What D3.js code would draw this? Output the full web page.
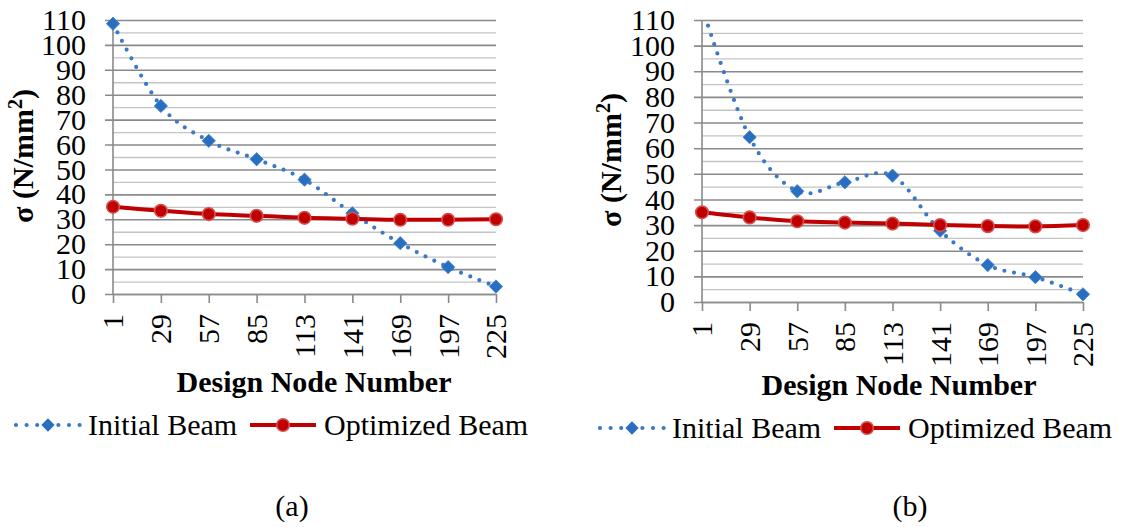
<!DOCTYPE html>
<html>
<head>
<meta charset="utf-8">
<script src="https://cdn.jsdelivr.net/npm/d3@7"></script>
<style>
  html, body { margin: 0; padding: 0; background: #ffffff; }
  svg { display: block; }
</style>
</head>
<body>
<svg id="chart" width="1125" height="527"></svg>
<script>
// Design node numbers along the beam (category axis)
const nodes = ["1", "29", "57", "85", "113", "141", "169", "197", "225"];

// Stress σ (N/mm²) at each design node — panel (a)
const initialA   = [108.5, 75.5, 61.5, 54.1, 45.9, 32.4, 20.4, 10.8, 3.0];
const optimizedA = [35.0, 33.4, 32.1, 31.4, 30.6, 30.2, 29.8, 29.8, 30.0];

// Stress σ (N/mm²) at each design node — panel (b)
const initialB   = [115.0, 64.3, 43.2, 46.7, 49.3, 27.8, 14.4, 9.7, 3.0];
const optimizedB = [35.0, 33.0, 31.5, 31.0, 30.6, 30.0, 29.6, 29.5, 30.0];

// Value-axis ticks: labelled majors and unlabelled minors
const yMajor = [0, 10, 20, 30, 40, 50, 60, 70, 80, 90, 100, 110];
const yMinor = [5, 15, 25, 35, 45, 55, 65, 75, 85, 95, 105];

const seriesNames = ["Initial Beam", "Optimized Beam"];
const panelLabels = ["(a)", "(b)"];

const BLUE_LINE = "#3a79c5";
const BLUE_MARK = "#2a6ec0";
const RED = "#c00000";
const RED_RING = "#d4504f";
const FONT = 30;
const SERIF = "Liberation Serif";

const svg = d3.select("#chart");

const panels = [
  { id: "a", initial: initialA, optimized: optimizedA, label: panelLabels[0],
    left: 113, right: 496, top: 20, bottom: 294,
    yTitleX: 33, yTitleY: 156, xTitleX: 314, xTitleY: 392,
    legendX: 16, legendY: 425, capX: 292, capY: 516 },
  { id: "b", initial: initialB, optimized: optimizedB, label: panelLabels[1],
    left: 702, right: 1083, top: 20, bottom: 302,
    yTitleX: 621, yTitleY: 160, xTitleX: 899, xTitleY: 395,
    legendX: 600, legendY: 428, capX: 910, capY: 516 }
];

const diamond = d3.symbol().type(d3.symbolSquare).size(88);
const MARK_R = 6.3;

panels.forEach(p => {
  const g = svg.append("g");
  const w = p.right - p.left;

  const x = d3.scalePoint().domain(nodes).range([p.left, p.right]);
  const y = d3.scaleLinear().domain([0, 110]).range([p.bottom, p.top]);

  // minor gridlines
  g.append("g")
    .attr("transform", `translate(${p.left},0)`)
    .call(d3.axisLeft(y).tickValues(yMinor).tickSize(-w).tickFormat(""))
    .call(s => s.select(".domain").remove())
    .call(s => s.selectAll("line").attr("stroke", "#c3c3c3").attr("stroke-width", 1.3));

  // major gridlines, extending left of the axis as tick marks
  g.append("g")
    .attr("transform", `translate(${p.left - 8},0)`)
    .call(d3.axisLeft(y).tickValues(yMajor).tickSize(-(w + 8)).tickFormat(""))
    .call(s => s.select(".domain").remove())
    .call(s => s.selectAll("line").attr("stroke", "#8a8a8a").attr("stroke-width", 1.6));

  // value-axis labels
  g.append("g")
    .attr("transform", `translate(${p.left},0)`)
    .call(d3.axisLeft(y).tickValues(yMajor).tickSize(0).tickPadding(27))
    .call(s => s.select(".domain").remove())
    .call(s => s.selectAll("text").style("font-size", FONT + "px"));

  // vertical axis line
  g.append("line")
    .attr("x1", p.left).attr("x2", p.left)
    .attr("y1", y(110)).attr("y2", y(0))
    .attr("stroke", "#8a8a8a").attr("stroke-width", 1.6);

  // category axis with rotated labels
  g.append("g")
    .attr("transform", `translate(0,${p.bottom})`)
    .call(d3.axisBottom(x).tickSize(9).tickSizeOuter(0))
    .call(s => s.select(".domain").attr("stroke", "#8a8a8a").attr("stroke-width", 1.6))
    .call(s => s.selectAll("line").attr("stroke", "#8a8a8a").attr("stroke-width", 1.6))
    .call(s => s.selectAll("text")
      .attr("transform", "rotate(-90)")
      .attr("x", -20).attr("y", 0).attr("dy", "0.33em")
      .attr("text-anchor", "end")
      .style("font-size", FONT + "px"));

  // axis titles
  const yt = g.append("text")
    .attr("transform", `translate(${p.yTitleX},${p.yTitleY}) rotate(-90)`)
    .attr("text-anchor", "middle")
    .style("font-size", FONT + "px").style("font-weight", "bold");
  yt.append("tspan").text("σ (N/mm");
  yt.append("tspan").attr("dy", -11).style("font-size", "20px").text("2");
  yt.append("tspan").attr("dy", 11).text(")");

  g.append("text")
    .attr("x", p.xTitleX).attr("y", p.xTitleY)
    .attr("text-anchor", "middle")
    .style("font-size", FONT + "px").style("font-weight", "bold")
    .text("Design Node Number");

  // series, clipped to the plot area
  const clipId = "clip-" + p.id;
  svg.append("clipPath").attr("id", clipId)
    .append("rect").attr("x", p.left).attr("y", p.top).attr("width", w).attr("height", p.bottom - p.top);

  const line = d3.line()
    .x((d, i) => x(nodes[i]))
    .y(d => y(d))
    .curve(d3.curveCardinal.tension(0));

  const series = g.append("g");
  series.append("path")
    .datum(p.initial)
    .attr("clip-path", `url(#${clipId})`)
    .attr("d", line)
    .attr("fill", "none")
    .attr("stroke", BLUE_LINE)
    .attr("stroke-width", 4.2)
    .attr("stroke-linecap", "round")
    .attr("stroke-dasharray", "0,9.8");

  series.append("path")
    .datum(p.optimized)
    .attr("clip-path", `url(#${clipId})`)
    .attr("d", line)
    .attr("fill", "none")
    .attr("stroke", RED)
    .attr("stroke-width", 4);

  // markers for values inside the axis range
  series.selectAll(".dia")
    .data(p.initial.map((v, i) => ({ v, i })).filter(d => d.v <= 110))
    .join("path")
    .attr("class", "dia")
    .attr("d", diamond)
    .attr("transform", d => `translate(${x(nodes[d.i])},${y(d.v)}) rotate(45)`)
    .attr("fill", BLUE_MARK)
    .attr("stroke", "#3f82cf").attr("stroke-width", 0.8);

  series.selectAll(".dot")
    .data(p.optimized.map((v, i) => ({ v, i })))
    .join("circle")
    .attr("class", "dot")
    .attr("cx", d => x(nodes[d.i]))
    .attr("cy", d => y(d.v))
    .attr("r", MARK_R)
    .attr("fill", RED)
    .attr("stroke", RED_RING).attr("stroke-width", 1.6);

  // legend
  const lg = g.append("g").attr("transform", `translate(${p.legendX},${p.legendY})`);
  lg.append("line")
    .attr("x1", 0).attr("x2", 64).attr("y1", 0).attr("y2", 0)
    .attr("stroke", BLUE_LINE).attr("stroke-width", 4.2)
    .attr("stroke-linecap", "round").attr("stroke-dasharray", "0,10.6");
  lg.append("path")
    .attr("d", diamond)
    .attr("transform", "translate(32,0) rotate(45)")
    .attr("fill", BLUE_MARK);
  lg.append("text")
    .attr("x", 72).attr("y", 10)
    .style("font-size", FONT + "px")
    .text(seriesNames[0]);
  lg.append("line")
    .attr("x1", 234).attr("x2", 300).attr("y1", 0).attr("y2", 0)
    .attr("stroke", RED).attr("stroke-width", 4);
  lg.append("circle")
    .attr("cx", 267).attr("cy", 0).attr("r", MARK_R)
    .attr("fill", RED).attr("stroke", RED_RING).attr("stroke-width", 1.6);
  lg.append("text")
    .attr("x", 308).attr("y", 10)
    .style("font-size", FONT + "px")
    .text(seriesNames[1]);

  // panel caption
  g.append("text")
    .attr("x", p.capX).attr("y", p.capY)
    .attr("text-anchor", "middle")
    .style("font-size", FONT + "px")
    .text(p.label);
});

// every label in the serif face
svg.selectAll("text")
  .style("font-family", `"${SERIF}"`)
  .attr("fill", "#000");
</script>
</body>
</html>
